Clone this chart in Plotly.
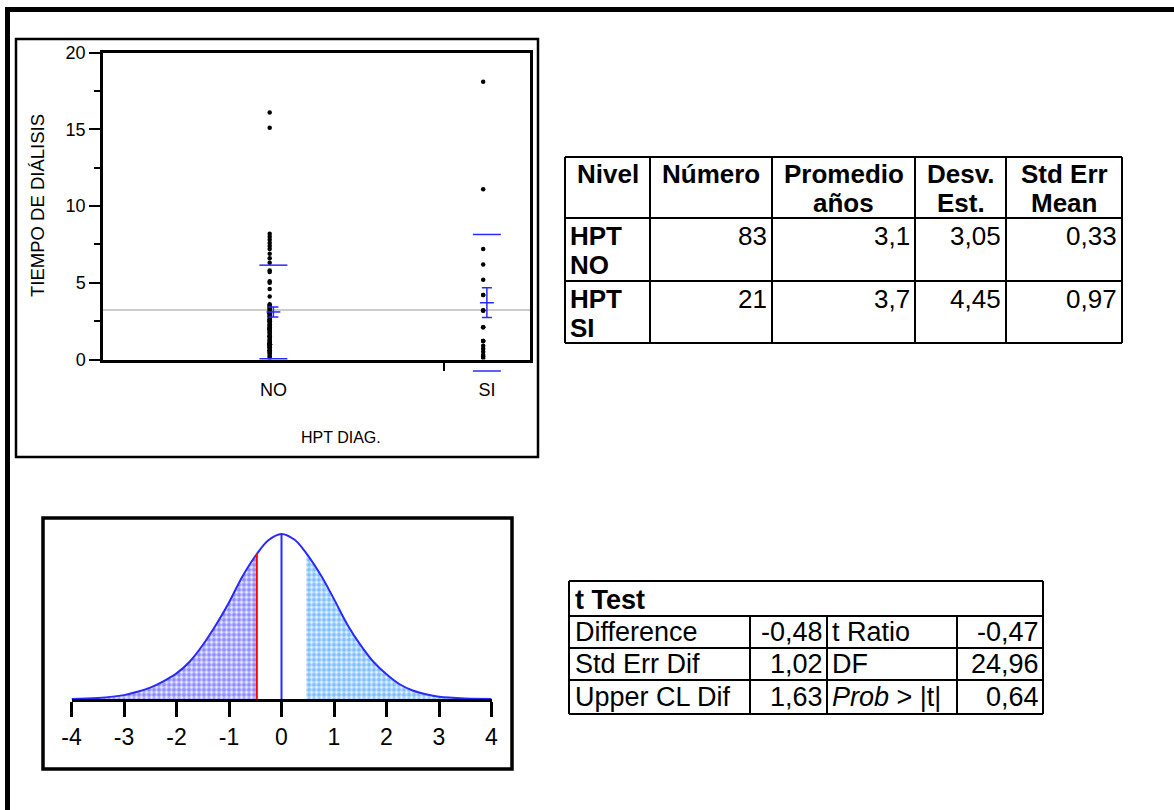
import plotly.graph_objects as go

W, H = 1174, 810
FONT = "Liberation Sans, Arial, sans-serif"
BLUE = "#2a2aff"

# ---------------- data ----------------
levels = ["NO", "SI"]
level_names = ["HPT NO", "HPT SI"]
counts = [83, 21]
means = [3.1, 3.7]
std_devs = [3.05, 4.45]
std_errs = [0.33, 0.97]

no_values = [16.1, 15.1, 8.2, 8.0, 7.8, 7.6, 7.4, 7.2, 6.9, 6.6, 6.3, 5.8, 5.7, 5.1, 5.0, 4.6, 4.1,
             3.6, 3.5, 3.4, 3.3, 3.2, 3.1, 3.0, 3.0, 2.9, 2.8,
             2.7, 2.6, 2.5, 2.5, 2.4, 2.3, 2.2, 2.1, 2.0, 2.0,
             2.0, 1.9, 1.8, 1.7, 1.6, 1.5, 1.5, 1.4, 1.3, 1.2,
             1.1, 1.0, 1.0, 1.0, 1.0, 1.0, 1.0, 1.0, 1.0, 1.0,
             1.0, 0.9, 0.9, 0.8, 0.8, 0.7, 0.6, 0.5, 0.5, 0.4,
             0.3, 0.2, 0.1, 3.0, 2.5, 2.0, 1.5, 1.0, 3.3, 2.8,
             2.2, 1.8, 1.2, 0.6, 3.5, 2.6]
si_values = [18.1, 11.1, 7.2, 6.2, 5.2, 4.2, 3.2, 2.1, 1.2, 0.9, 0.7, 0.5, 0.3,
             4.2, 3.2, 3.2, 2.1, 1.2, 1.2, 0.1, 0.2]
y_ticks = [0, 5, 10, 15, 20]

t_labels_left = ["Difference", "Std Err Dif", "Upper CL Dif"]
t_values_left = [-0.48, 1.02, 1.63]
t_labels_right = ["t Ratio", "DF", "<i>Prob</i> > |t|"]
t_values_right = [-0.47, 24.96, 0.64]
t_ratio = -0.47

dist_x = [-4, -3.5, -3, -2.75, -2.5, -2.25, -2, -1.75, -1.5, -1.25, -1, -0.75, -0.47, -0.25, 0,
          0.25, 0.47, 0.75, 1, 1.25, 1.5, 1.75, 2, 2.25, 2.5, 2.75, 3, 3.5, 4]
dist_density = [0.001, 0.003, 0.010, 0.018, 0.028, 0.043, 0.062, 0.090, 0.130, 0.178, 0.232, 0.293,
                0.348, 0.381, 0.396, 0.382, 0.350, 0.297, 0.240, 0.180, 0.131, 0.090, 0.060, 0.036,
                0.021, 0.012, 0.006, 0.002, 0.001]
dist_ticks = [-4, -3, -2, -1, 0, 1, 2, 3, 4]


def fmt(v, d=2):
    return f"{v:.{d}f}".replace(".", ",")


def px(x):
    return x / W


def py(y):
    return 1 - y / H


# scatter panel pixel geometry
SC_L, SC_R, SC_T, SC_B = 103, 530, 52.7, 359.5
Y_MAX = 20
EXT = 22  # extra px below the axis where the lower std line may be drawn
y_ext_lo = -Y_MAX * EXT / (SC_B - SC_T)

# category geometry (JMP widths proportional to counts)
total = sum(counts)
bounds = [0]
for c in counts:
    bounds.append(bounds[-1] + c)
centers = [(bounds[i] + bounds[i + 1]) / 2 for i in range(len(counts))]
grand_mean = sum(m * n for m, n in zip(means, counts)) / total
dot_shift = -0.9

fig = go.Figure()

# grand mean line
fig.add_trace(go.Scatter(x=[0, total], y=[grand_mean, grand_mean], mode="lines",
                         line=dict(color="#bcbcbc", width=1.5), xaxis="x", yaxis="y",
                         hoverinfo="skip"))
# points
for vals, cx in zip([no_values, si_values], centers):
    fig.add_trace(go.Scatter(x=[cx + dot_shift] * len(vals), y=vals, mode="markers",
                             marker=dict(color="black", size=4.5), xaxis="x", yaxis="y"))
# std dev lines (on an invisible, same-scale axis that extends below the frame)
for m, s, cx in zip(means, std_devs, centers):
    fig.add_trace(go.Scatter(x=[cx, cx], y=[m + s, m - s], mode="markers", cliponaxis=False,
                             marker=dict(symbol="line-ew", size=20, color=BLUE,
                                         line=dict(color=BLUE, width=1.5)),
                             xaxis="x", yaxis="y3"))
# mean with std err bars
fig.add_trace(go.Scatter(x=centers, y=means, mode="markers", cliponaxis=False,
                         marker=dict(symbol="line-ew", size=10, color=BLUE,
                                     line=dict(color=BLUE, width=1.5)),
                         error_y=dict(type="data", array=std_errs, width=5, thickness=1.5, color=BLUE),
                         xaxis="x", yaxis="y"))

# ---------------- distribution ----------------
left_x = [x for x in dist_x if x <= t_ratio]
left_y = [d for x, d in zip(dist_x, dist_density) if x <= t_ratio]
right_x = [x for x in dist_x if x >= -t_ratio]
right_y = [d for x, d in zip(dist_x, dist_density) if x >= -t_ratio]
fig.add_trace(go.Scatter(x=left_x, y=left_y, mode="lines", fill="tozeroy", line=dict(width=0, shape="spline"),
                         fillpattern=dict(shape=".", fgcolor="#3030ff", bgcolor="#ececff", size=5, solidity=0.6),
                         xaxis="x2", yaxis="y2"))
fig.add_trace(go.Scatter(x=right_x, y=right_y, mode="lines", fill="tozeroy", line=dict(width=0, shape="spline"),
                         fillpattern=dict(shape=".", fgcolor="#1e88ff", bgcolor="#e6f4ff", size=5, solidity=0.6),
                         xaxis="x2", yaxis="y2"))
fig.add_trace(go.Scatter(x=dist_x, y=dist_density, mode="lines",
                         line=dict(color=BLUE, width=2, shape="spline"), xaxis="x2", yaxis="y2"))
t_idx = dist_x.index(t_ratio)
z_idx = dist_x.index(0)
fig.add_trace(go.Scatter(x=[t_ratio, t_ratio], y=[0, dist_density[t_idx]], mode="lines",
                         line=dict(color="red", width=2), xaxis="x2", yaxis="y2"))
fig.add_trace(go.Scatter(x=[0, 0], y=[0, dist_density[z_idx]], mode="lines",
                         line=dict(color=BLUE, width=2), xaxis="x2", yaxis="y2"))

# ---------------- shapes & annotations ----------------
shapes = []
annotations = []


def rect(x0, y0, x1, y1, w):
    shapes.append(dict(type="rect", xref="paper", yref="paper", x0=px(x0), x1=px(x1),
                       y0=py(y0), y1=py(y1), line=dict(color="black", width=w)))


def line(x0, y0, x1, y1, w=2):
    shapes.append(dict(type="line", xref="paper", yref="paper", x0=px(x0), x1=px(x1),
                       y0=py(y0), y1=py(y1), line=dict(color="black", width=w)))


def ann(x, y, text, size, xanchor="left", yanchor="middle", angle=0):
    annotations.append(dict(xref="paper", yref="paper", x=px(x), y=py(y), text=text, showarrow=False,
                            xanchor=xanchor, yanchor=yanchor, textangle=angle,
                            font=dict(family=FONT, size=size, color="black")))


rect(7.5, 9.5, 1190, 830, 5)        # outer frame (clipped on the right/bottom)
rect(16, 39, 538, 457, 2.5)         # scatter panel
rect(43, 518, 512, 769, 3.5)        # distribution panel

ann(37, 205, "TIEMPO DE DIÁLISIS", 18.5, "center", "middle", -90)
ann(341, 437, "HPT DIAG.", 16, "center", "middle")

# table 1
cx1 = [565, 650, 772, 915, 1006, 1122]
cy1 = [157, 218, 281, 343]
for x in cx1:
    line(x, cy1[0], x, cy1[-1])
for y in cy1:
    line(cx1[0], y, cx1[-1], y)
headers = [["Nivel", ""], ["Número", ""], ["Promedio", "años"], ["Desv.", "Est."], ["Std Err", "Mean"]]
for i, (l1, l2) in enumerate(headers):
    mid = (cx1[i] + cx1[i + 1]) / 2
    ann(mid, 174, f"<b>{l1}</b>", 26, "center")
    if l2:
        ann(mid, 203, f"<b>{l2}</b>", 26, "center")
for r in range(len(level_names)):
    top = cy1[r + 1]
    w1, w2 = level_names[r].split(" ")
    ann(cx1[0] + 3, top + 18, f"<b>{w1}</b>", 26)
    ann(cx1[0] + 3, top + 47, f"<b>{w2}</b>", 26)
    row_vals = [str(counts[r]), fmt(means[r], 1), fmt(std_devs[r]), fmt(std_errs[r])]
    for j, v in enumerate(row_vals):
        ann(cx1[j + 2] - 3, top + 18, v, 26, "right")

# t test table
cx2 = [569, 750, 827, 957, 1043]
cy2 = [581, 616, 648, 680, 714]
for y in cy2:
    line(cx2[0], y, cx2[-1], y)
line(cx2[0], cy2[0], cx2[0], cy2[-1])
line(cx2[-1], cy2[0], cx2[-1], cy2[-1])
for x in cx2[1:-1]:
    line(x, cy2[1], x, cy2[-1])
ann(cx2[0] + 4, (cy2[0] + cy2[1]) / 2 + 1, "<b>t Test</b>", 27)
for r in range(3):
    mid = (cy2[r + 1] + cy2[r + 2]) / 2
    ann(cx2[0] + 4, mid, t_labels_left[r], 27)
    ann(cx2[2] - 2, mid, fmt(t_values_left[r]), 27, "right")
    ann(cx2[2] + 3, mid, t_labels_right[r], 27)
    ann(cx2[4] - 2, mid, fmt(t_values_right[r]), 27, "right")

fig.update_layout(
    width=W, height=H, margin=dict(l=0, r=0, t=0, b=0, pad=0, autoexpand=False),
    autosize=False,
    paper_bgcolor="white", plot_bgcolor="rgba(0,0,0,0)", showlegend=False,
    font=dict(family=FONT, color="black"),
    shapes=shapes, annotations=annotations,
    xaxis=dict(domain=[px(SC_L), px(SC_R)], range=[0, total], tickmode="array", tickvals=centers,
               ticktext=levels, ticks="", showline=True, mirror=True, linewidth=2.5, linecolor="black",
               showgrid=False, zeroline=False, tickfont=dict(size=18, family=FONT), ticklabelstandoff=12,
               automargin=False, anchor="y",
               minor=dict(tickmode="array", tickvals=[bounds[1]], ticks="outside", ticklen=9,
                          tickwidth=1.5, tickcolor="black")),
    yaxis=dict(domain=[py(SC_B), py(SC_T)], range=[0, Y_MAX], tickmode="array", tickvals=y_ticks,
               ticks="outside", ticklen=11, tickwidth=1.5, tickcolor="black", automargin=False,
               minor=dict(dtick=2.5, tick0=0, ticks="outside", ticklen=6, tickwidth=1.5, tickcolor="black"),
               showline=True, mirror=True, linewidth=2.5, linecolor="black", showgrid=False,
               zeroline=False, tickfont=dict(size=18, family=FONT), anchor="x"),
    yaxis3=dict(domain=[py(SC_B + EXT), py(SC_T)], range=[y_ext_lo, Y_MAX], visible=False,
                anchor="x", automargin=False),
    xaxis2=dict(domain=[px(71.5), px(491.5)], range=[-4, 4], tickmode="array", tickvals=dist_ticks,
                ticktext=[str(t) for t in dist_ticks], automargin=False,
                ticks="outside", ticklen=15, tickwidth=3, tickcolor="black", showline=True,
                linewidth=3, linecolor="black", showgrid=False, zeroline=False,
                tickfont=dict(size=23, family=FONT), anchor="y2"),
    yaxis2=dict(domain=[py(699.3), py(532.3)], range=[0, 0.4], visible=False, anchor="x2",
                automargin=False),
)

fig.write_html("out.html")
